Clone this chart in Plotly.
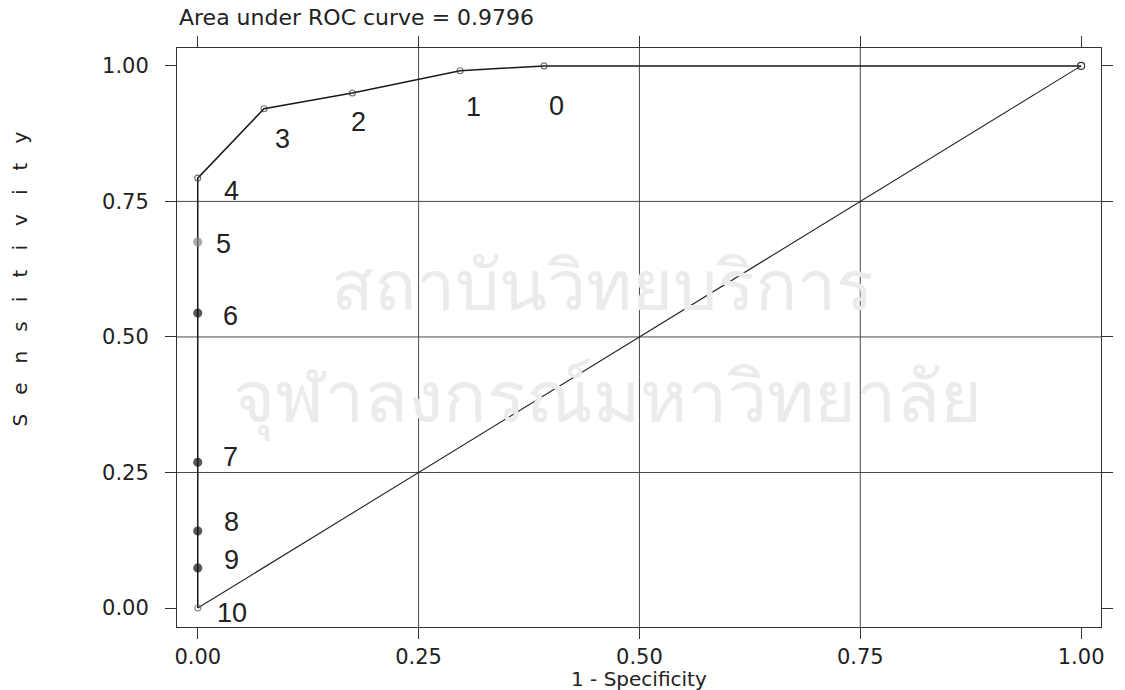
import plotly.graph_objects as go

# ---- data ----
cutpoint_labels = ["0", "1", "2", "3", "4", "5", "6", "7", "8", "9", "10"]
one_minus_specificity = [0.392, 0.297, 0.175, 0.075, 0.0, 0.0, 0.0, 0.0, 0.0, 0.0, 0.0]
sensitivity = [1.000, 0.991, 0.950, 0.921, 0.793, 0.675, 0.544, 0.269, 0.142, 0.074, 0.000]
curve_end_x = [1.0]
curve_end_y = [1.0]
reference_x = [0.0, 1.0]
reference_y = [0.0, 1.0]
tick_vals = [0.0, 0.25, 0.5, 0.75, 1.0]
tick_text = ["0.00", "0.25", "0.50", "0.75", "1.00"]
grid_vals = [0.25, 0.5, 0.75]
auc_text = "Area under ROC curve = 0.9796"
x_title = "1 - Specificity"
y_title = "Sensitivity"
watermark_lines = ["สถาบันวิทยบริการ", "จุฬาลงกรณ์มหาวิทยาลัย"]

# ---- styling ----
marker_symbols = ["circle-open"] * 5 + ["circle"] * 5 + ["circle-open"]
marker_colors = ["#333"] * 5 + ["#888"] + ["#111"] * 4 + ["#555"]
marker_sizes = [6] * 5 + [8] * 5 + [6]
# label offsets in screen pixels (right, down)
label_offsets = [(12, 40), (13, 36), (6, 29), (18, 30), (34, 13), (26, 2),
                 (33, 3), (33, -5), (34, -9), (34, -8), (34, 5)]

curve_x = curve_end_x + one_minus_specificity
curve_y = curve_end_y + sensitivity

fig = go.Figure()

# diagonal reference line
fig.add_trace(go.Scatter(x=reference_x, y=reference_y, mode="lines",
                         line=dict(color="#222", width=1.1), hoverinfo="skip",
                         showlegend=False))
# ROC curve line
fig.add_trace(go.Scatter(x=curve_x, y=curve_y, mode="lines",
                         line=dict(color="#1a1a1a", width=1.5), showlegend=False))
# endpoint marker
fig.add_trace(go.Scatter(x=curve_end_x, y=curve_end_y, mode="markers",
                         marker=dict(symbol="circle-open", size=7, color="#333",
                                     line=dict(width=1.2)), showlegend=False))
# cutpoint markers
fig.add_trace(go.Scatter(x=one_minus_specificity, y=sensitivity, mode="markers",
                         text=cutpoint_labels,
                         marker=dict(symbol=marker_symbols, size=marker_sizes,
                                     color=marker_colors, line=dict(width=1.1, color=marker_colors)),
                         showlegend=False))

annotations = []

# watermark
annotations.append(dict(x=(607 - 177) / 933, y=(627 - 283) / 579, xref="paper", yref="paper",
                        text=watermark_lines[0], showarrow=False,
                        font=dict(size=70, color="#ebebeb"), xanchor="center", yanchor="middle"))
annotations.append(dict(x=(612 - 177) / 933, y=(627 - 394) / 579, xref="paper", yref="paper",
                        text=watermark_lines[1], showarrow=False,
                        font=dict(size=72, color="#ebebeb"), xanchor="center", yanchor="middle"))

for lab, xv, yv, (dx, dy) in zip(cutpoint_labels, one_minus_specificity, sensitivity, label_offsets):
    annotations.append(dict(x=xv, y=yv, xref="x", yref="y", text=lab, showarrow=False,
                            xshift=dx, yshift=-dy, xanchor="center", yanchor="middle",
                            font=dict(family="Liberation Sans, Arial", size=27, color="#222")))

# title
annotations.append(dict(x=0.0, y=1 + (48 - 32) / 579, xref="paper", yref="paper",
                        text=auc_text, showarrow=False, xanchor="left", yanchor="bottom",
                        font=dict(family="DejaVu Sans", size=22, color="#222")))
# axis titles
annotations.append(dict(x=0.5, y=-(679 - 627) / 579, xref="paper", yref="paper",
                        text=x_title, showarrow=False, xanchor="center", yanchor="middle",
                        font=dict(family="DejaVu Sans", size=20, color="#222")))
annotations.append(dict(x=(18 - 177) / 933, y=(627 - 279) / 579, xref="paper", yref="paper",
                        text="\u00a0\u00a0\u00a0".join(list(y_title)), showarrow=False,
                        textangle=-90, xanchor="center", yanchor="middle",
                        font=dict(family="DejaVu Sans", size=20, color="#222")))

shapes = []
for g in grid_vals:
    shapes.append(dict(type="line", xref="x", yref="paper", x0=g, x1=g, y0=0, y1=1,
                       line=dict(color="#4a4a4a", width=1), layer="below"))
    shapes.append(dict(type="line", xref="paper", yref="y", x0=0, x1=1, y0=g, y1=g,
                       line=dict(color="#4a4a4a", width=1), layer="below"))

axis_common = dict(tickvals=tick_vals, ticktext=tick_text, ticks="outside", ticklen=11,
                   tickcolor="#333", tickwidth=1, showline=True, linecolor="#333", linewidth=1,
                   mirror="ticks", showgrid=False, zeroline=False,
                   tickfont=dict(family="DejaVu Sans", size=21, color="#222"))

fig.update_xaxes(range=[-0.0235, 1.0225], ticklabelstandoff=0, **axis_common)
fig.update_yaxes(range=[-0.035, 1.033], ticklabelstandoff=12, **axis_common)

fig.update_layout(width=1125, height=690, margin=dict(l=177, r=15, t=48, b=63),
                  paper_bgcolor="white", plot_bgcolor="white",
                  annotations=annotations, shapes=shapes, showlegend=False)

fig.write_html("out.html")
